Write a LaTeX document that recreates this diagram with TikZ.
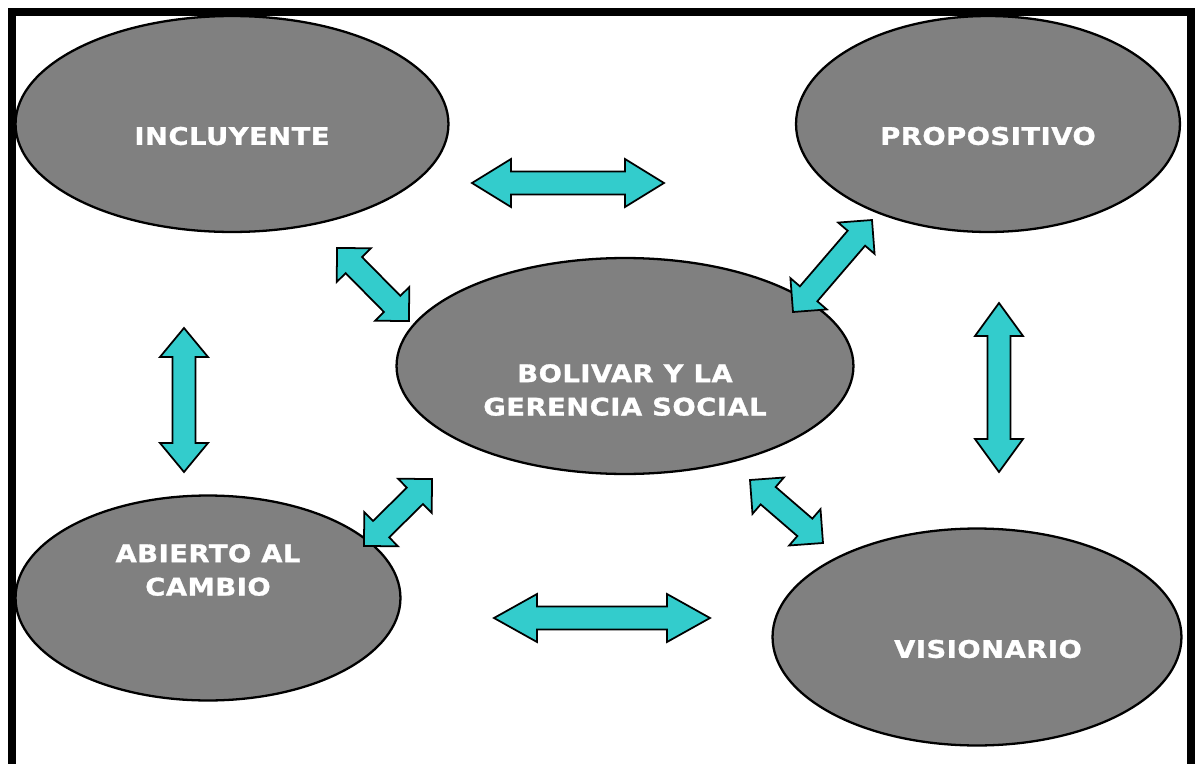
\documentclass[tikz,border=0pt]{standalone}
\usepackage{fontspec}
\setmainfont[FakeStretch=1.13,LetterSpace=2,BoldFeatures={FakeBold=1.2}]{DejaVu Sans}
\usepackage{tikz}
\usetikzlibrary{calc}
\usetikzlibrary{shapes.geometric}

\definecolor{ovalgray}{HTML}{808080}
\definecolor{arrowcyan}{HTML}{33CCCC}

% block arrow with two heads: #1 head length, #2 and #3 the tips
\newcommand{\dblarrow}[3]{%
  \filldraw[block] (#2)
    -- ($(#2)!#1!(#3)!0.48cm!90:(#3)$)
    -- ($(#2)!#1!(#3)!0.23cm!90:(#3)$)
    -- ($(#3)!#1!(#2)!0.23cm!-90:(#2)$)
    -- ($(#3)!#1!(#2)!0.48cm!-90:(#2)$)
    -- (#3)
    -- ($(#3)!#1!(#2)!0.48cm!90:(#2)$)
    -- ($(#3)!#1!(#2)!0.23cm!90:(#2)$)
    -- ($(#2)!#1!(#3)!0.23cm!-90:(#3)$)
    -- ($(#2)!#1!(#3)!0.48cm!-90:(#3)$)
    -- cycle;}

\begin{document}
\begin{tikzpicture}[x=0.02cm,y=-0.02cm]
  \tikzset{oval/.style={ellipse,draw=black,line width=1.3pt,fill=ovalgray,minimum height=4.32cm},
           lbl/.style={text=white,font=\bfseries\fontsize{13.8}{19}\selectfont,align=center,inner sep=0pt},
           block/.style={draw=black,line width=1pt,fill=arrowcyan,line join=miter}}
  \useasboundingbox (0,0) rectangle (1198,764);
  \draw[line width=0.16cm] (12,12) rectangle (1191,770);

  \node[oval,minimum width=8.66cm] (incl) at (232,124) {};
  \node[oval,minimum width=7.68cm] (prop) at (988,124) {};
  \node[oval,minimum width=9.14cm] (bol)  at (625,366) {};
  \node[oval,minimum width=7.70cm,minimum height=4.10cm] (abi) at (208,598) {};
  \node[oval,minimum width=8.18cm,minimum height=4.34cm] (vis) at (977,637) {};

  \node[lbl] (inclT) at (232,136) {INCLUYENTE};
  \node[lbl] (propT) at (988,136) {PROPOSITIVO};
  \node[lbl] (bolT)  at (625,390) {BOLIVAR Y LA\\GERENCIA SOCIAL};
  \node[lbl] (abiT)  at (208,570) {ABIERTO AL\\CAMBIO};
  \node[lbl] (visT)  at (988,649) {VISIONARIO};

  \coordinate (ip1) at (472,183);  \coordinate (ip2) at (664,183);
  \coordinate (av1) at (494,618);  \coordinate (av2) at (710,618);
  \coordinate (ia1) at (184,328);  \coordinate (ia2) at (184,472);
  \coordinate (pv1) at (999,303);  \coordinate (pv2) at (999,472);
  \coordinate (ib1) at (337,248);  \coordinate (ib2) at (409,321);
  \coordinate (pb1) at (872,220);  \coordinate (pb2) at (793,312);
  \coordinate (ab1) at (432,479);  \coordinate (ab2) at (364,546);
  \coordinate (vb1) at (750,480);  \coordinate (vb2) at (823,543);

  \dblarrow{0.78cm}{ip1}{ip2}
  \dblarrow{0.86cm}{av1}{av2}
  \dblarrow{0.58cm}{ia1}{ia2}
  \dblarrow{0.66cm}{pv1}{pv2}
  \dblarrow{0.48cm}{ib1}{ib2}
  \dblarrow{0.48cm}{pb1}{pb2}
  \dblarrow{0.48cm}{ab1}{ab2}
  \dblarrow{0.48cm}{vb1}{vb2}
\end{tikzpicture}
\end{document}
